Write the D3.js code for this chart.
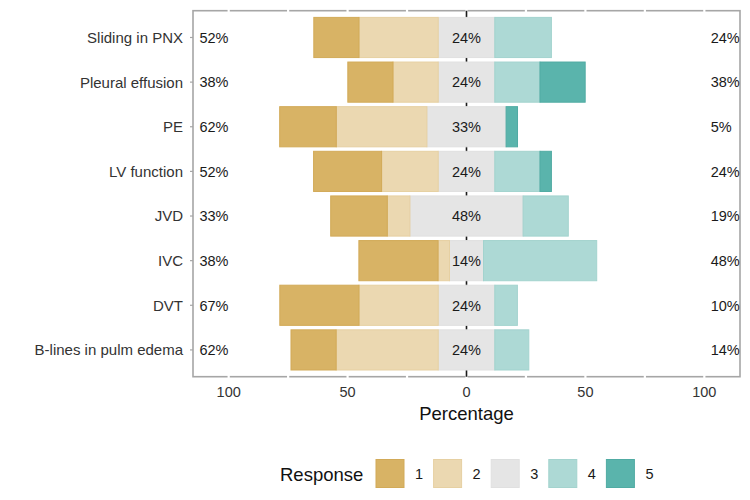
<!DOCTYPE html>
<html>
<head>
<meta charset="utf-8">
<script src="https://cdn.jsdelivr.net/npm/d3@7"></script>
<style>
  html, body { margin: 0; padding: 0; background: #fff; }
  svg { display: block; font-family: "Liberation Sans", Arial, sans-serif; }
</style>
</head>
<body>
<svg id="chart" width="750" height="500"></svg>
<script>
// ---- Data (percent of respondents, response levels 1..5) ----
const items = ["Sliding in PNX", "Pleural effusion", "PE", "LV function", "JVD", "IVC", "DVT", "B-lines in pulm edema"];
const resp1 = [19.0, 19.0, 23.8, 28.6, 23.8, 33.3, 33.3, 19.0];
const resp2 = [33.3, 19.0, 38.1, 23.8,  9.5,  4.8, 33.3, 42.9];
const resp3 = [23.8, 23.8, 33.3, 23.8, 47.6, 14.3, 23.8, 23.8];
const resp4 = [23.8, 19.0,  0.0, 19.0, 19.0, 47.6,  9.5, 14.3];
const resp5 = [ 0.0, 19.0,  4.8,  4.8,  0.0,  0.0,  0.0,  0.0];
const lowLabels  = ["52%", "38%", "62%", "52%", "33%", "38%", "67%", "62%"];
const midLabels  = ["24%", "24%", "33%", "24%", "48%", "14%", "24%", "24%"];
const highLabels = ["24%", "38%", "5%", "24%", "19%", "48%", "10%", "14%"];
const levels = ["1", "2", "3", "4", "5"];
const xTicks = [-100, -50, 0, 50, 100];
const gridTicks = [-100, -75, -50, -25, 0, 25, 50, 75, 100];

const colors = ["#D8B365", "#EBD8B1", "#E5E5E5", "#ADD9D5", "#5AB4AC"];
const strokes = ["#D2AA58", "#E6D0A2", "#E0E0E0", "#A3D3CE", "#50ABA3"];

// ---- Layout ----
const panel = { left: 193, right: 740, top: 10.7, bottom: 376.7 };
const svg = d3.select("#chart");

const x = d3.scaleLinear().domain([-115, 115]).range([panel.left, panel.right]);
const y = d3.scalePoint().domain(items).range([panel.top, panel.bottom]).padding(0.6);
const bh = y.step() * 0.9;

// Panel border
svg.append("rect")
  .attr("x", panel.left).attr("y", panel.top)
  .attr("width", panel.right - panel.left).attr("height", panel.bottom - panel.top)
  .attr("fill", "#fff").attr("stroke", "#A6A6A6").attr("stroke-width", 1.6);

// White grid lines (visible as breaks in the border)
svg.append("g").selectAll("line").data(gridTicks).join("line")
  .attr("x1", d => x(d)).attr("x2", d => x(d))
  .attr("y1", panel.top - 2).attr("y2", panel.bottom + 2)
  .attr("stroke", "#fff").attr("stroke-width", 2.2);

// Center line
svg.append("line")
  .attr("x1", x(0)).attr("x2", x(0))
  .attr("y1", panel.top).attr("y2", panel.bottom)
  .attr("stroke", "#1a1a1a").attr("stroke-width", 1.6);

// Y axis ticks
svg.append("g").selectAll("line").data(items).join("line")
  .attr("x1", panel.left - 3).attr("x2", panel.left)
  .attr("y1", d => y(d)).attr("y2", d => y(d))
  .attr("stroke", "#A6A6A6").attr("stroke-width", 1.2);

// Build segments
const segs = [];
items.forEach((it, i) => {
  const vals = [resp1[i], resp2[i], resp3[i], resp4[i], resp5[i]];
  const half = vals[2] / 2;
  // left side: neutral half, 2, 1
  let pos = -half;
  segs.push({ item: it, lvl: 2, x0: -half, x1: half });
  let l = -half;
  [1, 0].forEach(k => {
    if (vals[k] > 0) segs.push({ item: it, lvl: k, x0: l - vals[k], x1: l });
    l -= vals[k];
  });
  let r = half;
  [3, 4].forEach(k => {
    if (vals[k] > 0) segs.push({ item: it, lvl: k, x0: r, x1: r + vals[k] });
    r += vals[k];
  });
});

svg.append("g").selectAll("rect").data(segs).join("rect")
  .attr("x", d => x(d.x0)).attr("width", d => x(d.x1) - x(d.x0))
  .attr("y", d => y(d.item) - bh / 2).attr("height", bh)
  .attr("fill", d => colors[d.lvl])
  .attr("stroke", d => strokes[d.lvl]).attr("stroke-width", 1);

// Percent labels
const pct = svg.append("g").attr("font-size", 14.5).attr("fill", "#1a1a1a");
pct.selectAll("text.low").data(items).join("text").attr("class", "low")
  .attr("x", x(-112.3)).attr("y", d => y(d)).attr("dy", "0.36em")
  .attr("text-anchor", "start").text((d, i) => lowLabels[i]);
pct.selectAll("text.mid").data(items).join("text").attr("class", "mid")
  .attr("x", x(0)).attr("y", d => y(d)).attr("dy", "0.36em")
  .attr("text-anchor", "middle").text((d, i) => midLabels[i]);
pct.selectAll("text.high").data(items).join("text").attr("class", "high")
  .attr("x", x(102.7)).attr("y", d => y(d)).attr("dy", "0.36em")
  .attr("text-anchor", "start").text((d, i) => highLabels[i]);

// Y axis labels
svg.append("g").selectAll("text").data(items).join("text")
  .attr("x", 183).attr("y", d => y(d)).attr("dy", "0.36em")
  .attr("text-anchor", "end").attr("font-size", 15).attr("fill", "#333")
  .text(d => d);

// X tick labels
svg.append("g").selectAll("text").data(xTicks).join("text")
  .attr("x", d => x(d)).attr("y", 392).attr("dy", "0.36em")
  .attr("text-anchor", "middle").attr("font-size", 14.5).attr("fill", "#333")
  .text(d => Math.abs(d));

// X title
svg.append("text").attr("x", x(0)).attr("y", 413).attr("dy", "0.36em")
  .attr("text-anchor", "middle").attr("font-size", 18.5).attr("fill", "#111")
  .text("Percentage");

// Legend
const lg = svg.append("g");
lg.append("text").attr("x", 280).attr("y", 474).attr("dy", "0.36em")
  .attr("font-size", 18.5).attr("fill", "#111").text("Response");
const lgi = lg.selectAll("g.item").data(levels).join("g").attr("class", "item")
  .attr("transform", (d, i) => `translate(${376 + i * 57.6},0)`);
lgi.append("rect").attr("x", 0).attr("y", 459.5).attr("width", 28).attr("height", 28)
  .attr("fill", (d, i) => colors[i]).attr("stroke", (d, i) => strokes[i]).attr("stroke-width", 1);
lgi.append("text").attr("x", 39).attr("y", 474).attr("dy", "0.36em")
  .attr("font-size", 14.5).attr("fill", "#1a1a1a").text(d => d);
</script>
</body>
</html>
